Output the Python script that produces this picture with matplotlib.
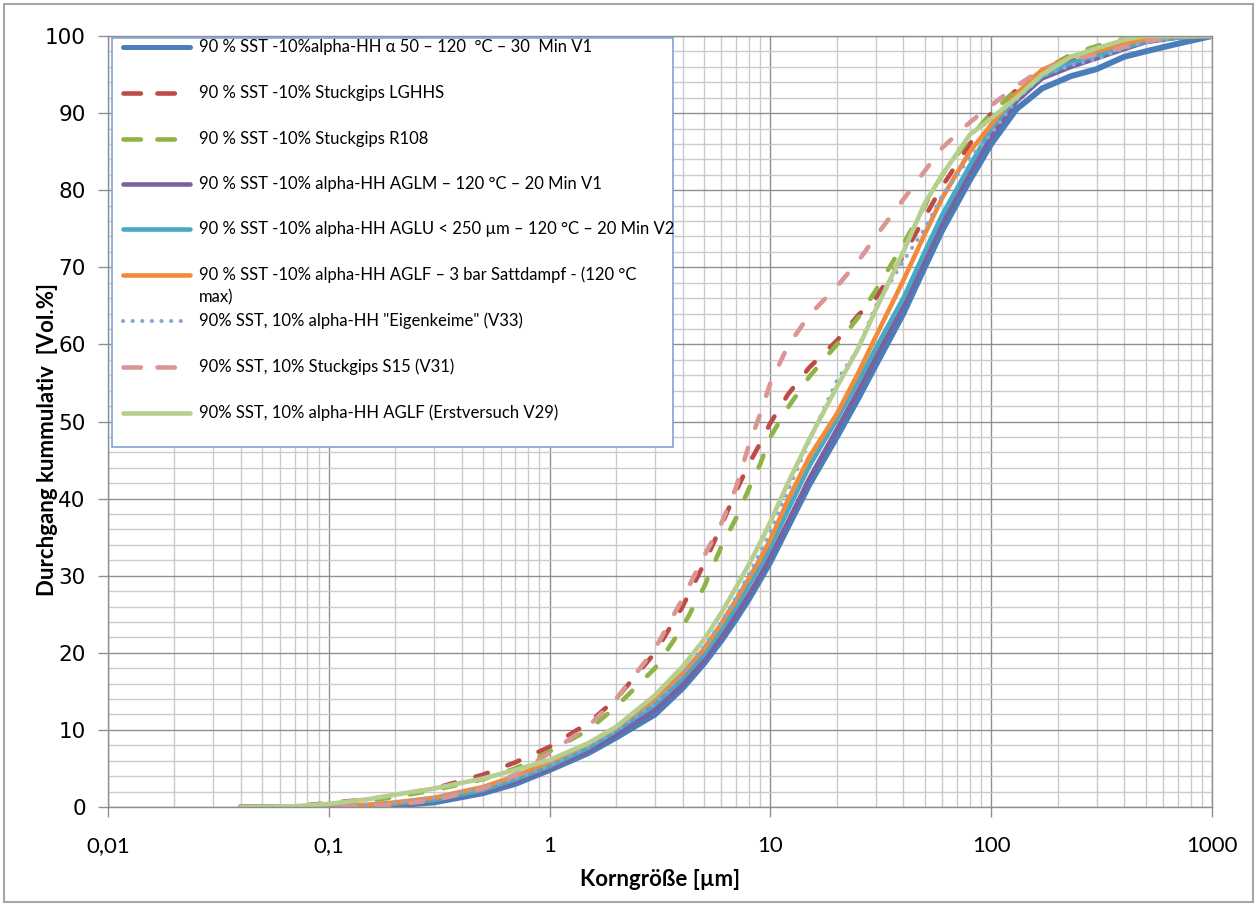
import matplotlib
matplotlib.use("Agg")
import matplotlib.pyplot as plt
from matplotlib.ticker import FixedLocator, MultipleLocator, LogLocator, NullFormatter
from matplotlib.lines import Line2D
from matplotlib.patches import Rectangle

# ---------------- data ----------------
size_um = [0.04, 0.07, 0.1, 0.15, 0.2, 0.3, 0.5, 0.7, 1, 1.5, 2, 3, 4, 5, 6, 7, 8, 9,
           10, 12, 15, 20, 25, 30, 40, 50, 60, 80, 100, 130, 170, 230, 300, 400, 500, 700, 1000]

alpha50_V1 = [0, 0, 0.05, 0.1, 0.2, 0.6, 1.8, 3.0, 4.8, 7.0, 9.0, 12.0, 15.4, 18.6, 21.6, 24.4, 27.0, 29.5,
              31.8, 36.3, 41.8, 48.0, 53.0, 57.3, 64.0, 70.0, 74.8, 81.3, 86.0, 90.5, 93.2, 94.8, 95.7, 97.3, 98.0, 99.0, 100]
stuck_LGHHS = [0, 0.1, 0.5, 1.0, 1.5, 2.4, 4.2, 5.8, 7.8, 10.9, 14.0, 20.0, 26.0, 31.5, 36.5, 41.0, 44.5, 47.2,
               49.8, 53.5, 57.0, 60.5, 63.8, 66.0, 71.5, 76.5, 80.5, 86.0, 90.0, 93.0, 95.3, 97.0, 98.0, 99.0, 99.6, 100, 100]
stuck_R108 = [0, 0.1, 0.4, 0.8, 1.3, 2.2, 3.6, 5.0, 7.2, 10.0, 13.0, 18.0, 23.3, 28.5, 33.8, 37.5, 41.3, 44.5,
              48.0, 51.8, 55.8, 60.0, 63.5, 67.0, 73.0, 78.0, 82.0, 86.8, 90.0, 93.0, 95.5, 97.6, 98.7, 99.6, 100, 100, 100]
aglm_V1 = [0, 0, 0.05, 0.15, 0.3, 0.8, 2.0, 3.3, 5.0, 7.3, 9.4, 12.6, 15.9, 19.0, 22.1, 25.0, 27.6, 30.1,
           32.5, 37.0, 42.6, 49.0, 54.0, 58.3, 65.0, 71.0, 75.8, 82.3, 87.0, 91.5, 94.5, 96.0, 97.1, 98.3, 99.2, 99.8, 100]
aglu_V2 = [0, 0, 0.05, 0.2, 0.4, 0.9, 2.2, 3.6, 5.3, 7.7, 9.9, 13.3, 16.7, 19.8, 23.0, 26.0, 28.8, 31.3,
           33.7, 38.5, 44.2, 50.3, 55.2, 59.5, 66.0, 72.0, 76.8, 83.2, 88.0, 92.0, 94.8, 96.5, 97.5, 98.5, 99.3, 99.8, 100]
aglf_3bar = [0, 0, 0.1, 0.3, 0.6, 1.2, 2.6, 4.0, 5.8, 8.2, 10.3, 14.0, 17.3, 20.5, 23.8, 26.9, 29.7, 32.2,
             34.7, 39.8, 45.4, 51.0, 56.3, 61.0, 68.3, 74.3, 79.0, 85.0, 88.5, 92.5, 95.6, 97.3, 98.0, 99.0, 99.6, 100, 100]
eigenkeime_V33 = [0, 0, 0.1, 0.3, 0.6, 1.2, 2.5, 3.7, 5.4, 7.8, 9.9, 13.5, 17.2, 20.8, 24.0, 27.2, 30.2, 33.0,
                  35.7, 41.0, 47.5, 55.3, 59.5, 65.0, 70.8, 75.0, 79.3, 84.2, 87.3, 91.7, 94.8, 96.2, 97.0, 98.4, 99.2, 99.8, 100]
stuck_S15_V31 = [0, 0, 0, 0.1, 0.3, 0.9, 2.4, 4.2, 7.0, 10.5, 14.0, 20.5, 27.0, 32.5, 36.8, 41.5, 47.0, 51.0,
                 55.0, 59.8, 63.8, 67.5, 70.8, 74.0, 78.8, 82.5, 85.5, 88.8, 91.0, 93.5, 95.7, 96.9, 97.6, 98.6, 99.3, 99.9, 100]
aglf_V29 = [0, 0.1, 0.4, 1.0, 1.6, 2.4, 3.7, 4.8, 6.1, 8.3, 10.4, 14.5, 18.2, 21.7, 25.2, 28.5, 31.5, 34.3,
            37.0, 42.0, 47.7, 54.5, 59.5, 64.5, 72.0, 78.3, 82.0, 87.2, 89.3, 92.0, 95.0, 97.3, 98.4, 99.5, 100, 100, 100]

labels = [
    "90 % SST -10%alpha-HH \u03b1 50 \u2013 120  \u00b0C \u2013 30  Min V1",
    "90 % SST -10% Stuckgips LGHHS",
    "90 % SST -10% Stuckgips R108",
    "90 % SST -10% alpha-HH AGLM \u2013 120 \u00b0C \u2013 20 Min V1",
    "90 % SST -10% alpha-HH AGLU < 250 \u00b5m \u2013 120 \u00b0C \u2013 20 Min V2",
    "90 % SST -10% alpha-HH AGLF \u2013 3 bar Sattdampf - (120 \u00b0C",
    "90% SST, 10% alpha-HH \"Eigenkeime\" (V33)",
    "90% SST, 10% Stuckgips S15 (V31)",
    "90% SST, 10% alpha-HH AGLF (Erstversuch V29)",
]
label6_cont = "max)"

xtick_vals = [0.01, 0.1, 1, 10, 100, 1000]
xtick_labels = ["0,01", "0,1", "1", "10", "100", "1000"]

# ---------------- styles ----------------
DASH = (0, (2.8, 4.6))
DOT = (0, (0.01, 2.3))
LEG_DASH = (0, (3.8, 3.6))
styles = [
    dict(color="#4a7ebb", lw=4.3, ls="-"),
    dict(color="#be4b48", lw=3.3, ls=DASH),
    dict(color="#8db445", lw=3.3, ls=DASH),
    dict(color="#7d60a0", lw=3.3, ls="-"),
    dict(color="#46aac5", lw=3.3, ls="-"),
    dict(color="#f28a3a", lw=3.3, ls="-"),
    dict(color="#86a6d8", lw=3.0, ls=DOT),
    dict(color="#d99694", lw=3.3, ls=DASH),
    dict(color="#b4cf8e", lw=3.3, ls="-"),
]
series = [alpha50_V1, stuck_LGHHS, stuck_R108, aglm_V1, aglu_V2, aglf_3bar,
          eigenkeime_V33, stuck_S15_V31, aglf_V29]

FW, FH = 1258, 906
LATO = ["Lato", "DejaVu Sans"]

fig = plt.figure(figsize=(FW / 100, FH / 100), dpi=100)
fig.patch.set_facecolor("white")
ax = fig.add_axes([108 / FW, 1 - 807 / FH, 1104 / FW, 771 / FH])
ax.set_xscale("log")

for vals, st in zip(series, styles):
    ax.plot(size_um, vals, color=st["color"], lw=st["lw"], linestyle=st["ls"],
            solid_capstyle="round", dash_capstyle="round", solid_joinstyle="round")

ax.set_xlim(0.01, 1000)
ax.set_ylim(0, 100)
ax.xaxis.set_major_locator(FixedLocator(xtick_vals))
ax.set_xticklabels(xtick_labels)
ax.xaxis.set_minor_locator(LogLocator(base=10, subs=range(2, 10), numticks=20))
ax.xaxis.set_minor_formatter(NullFormatter())
ax.yaxis.set_major_locator(MultipleLocator(10))
ax.yaxis.set_minor_locator(MultipleLocator(2))

ax.grid(which="major", color="#8f8f8f", lw=1.0)
ax.grid(which="minor", color="#cacaca", lw=1.0)
ax.set_axisbelow(True)
for sp in ax.spines.values():
    sp.set_color("#8f8f8f")
    sp.set_linewidth(1.0)

ax.tick_params(which="minor", length=0)
ax.tick_params(which="major", direction="out", length=7, color="#8f8f8f", width=1)
ax.tick_params(axis="y", labelsize=15.5, pad=9)
ax.tick_params(axis="x", labelsize=16, pad=14)
for lbl in ax.get_xticklabels():
    lbl.set_family(LATO)
for lbl in ax.get_yticklabels():
    lbl.set_family("DejaVu Sans")

ax.set_xlabel("Korngr\u00f6\u00dfe [\u00b5m]", fontsize=16, fontweight="bold", family=LATO, labelpad=9)
fig.text(48 / FW, 1 - 440 / FH, "Durchgang kummulativ  [Vol.%]", rotation=90, fontsize=16,
         fontweight="bold", family=LATO, ha="center", va="center")


# ---------------- manual legend (Excel style) ----------------
def fx(px):
    return px / FW


def fy(py):
    return 1 - py / FH


box = Rectangle((fx(112), fy(447)), fx(673) - fx(112), fy(38) - fy(447), transform=fig.transFigure,
                facecolor="white", edgecolor="#7fa3d6", lw=1.2, zorder=5)
fig.add_artist(box)
row_y = [47, 93, 139, 184, 229, 275, 321, 367, 413]
for st, lab, y in zip(styles, labels, row_y):
    ls = st["ls"]
    x0, x1 = 123, 190
    if ls == DASH:
        ls = LEG_DASH
        x0, x1 = 123.3, 174.7
    elif ls == DOT:
        x0, x1 = 123, 185
    ln = Line2D([fx(x0), fx(x1)], [fy(y), fy(y)], transform=fig.transFigure, color=st["color"],
                lw=st["lw"] if st["lw"] < 4 else 3.6, linestyle=ls, solid_capstyle="round",
                dash_capstyle="round", zorder=6)
    fig.add_artist(ln)
    fig.text(fx(199), fy(y), lab, fontsize=12, family=LATO, ha="left", va="center", zorder=7)
fig.text(fx(199), fy(297), label6_cont, fontsize=12, family=LATO, ha="left", va="center", zorder=7)

# outer chart frame
fig.add_artist(Rectangle((fx(4), fy(902)), fx(1253) - fx(4), fy(4) - fy(902), transform=fig.transFigure,
                         fill=False, edgecolor="#a6a6a6", lw=1.5, zorder=10))

fig.savefig("out.png", dpi=100, facecolor="white")
